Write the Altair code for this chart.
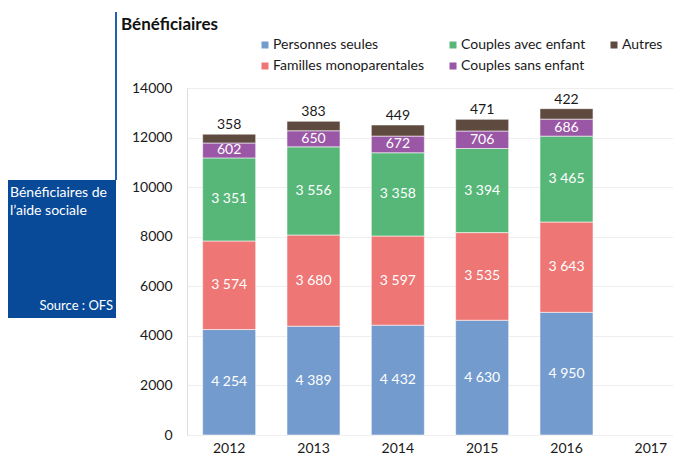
import altair as alt
import pandas as pd

years = ["2012", "2013", "2014", "2015", "2016", "2017"]
series = ["Personnes seules", "Familles monoparentales", "Couples avec enfant",
          "Couples sans enfant", "Autres"]
personnes_seules = [4254, 4389, 4432, 4630, 4950]
familles_mono = [3574, 3680, 3597, 3535, 3643]
couples_avec = [3351, 3556, 3358, 3394, 3465]
couples_sans = [602, 650, 672, 706, 686]
autres = [358, 383, 449, 471, 422]

legend_order = ["Personnes seules", "Couples avec enfant", "Autres",
                "Familles monoparentales", "Couples sans enfant"]
palette = {
    "Personnes seules": "#739bcd",
    "Familles monoparentales": "#ee7674",
    "Couples avec enfant": "#56b778",
    "Couples sans enfant": "#9a57a6",
    "Autres": "#5f4a3f",
}

rows = []
for i, (name, vals) in enumerate(zip(series, [personnes_seules, familles_mono, couples_avec,
                                              couples_sans, autres])):
    for yr, v in zip(years[:5], vals):
        rows.append({"year": yr, "series": name, "value": v, "order": i})
df = pd.DataFrame(rows)

FONT = "Lato"

x_enc = alt.X("year:N",
              scale=alt.Scale(domain=years, range=[0, 506], paddingInner=0.371, paddingOuter=0.1855),
              axis=alt.Axis(title=None, labelAngle=0, labelFontSize=14, labelColor="#1a1a1a",
                            labelFont=FONT, ticks=False, domain=False, labelPadding=6, grid=False))
y_scale = alt.Scale(domain=[0, 14000], nice=False)

bars = alt.Chart(df).mark_bar(stroke="white", strokeWidth=0.8, strokeOpacity=0.7).encode(
    x=x_enc,
    y=alt.Y("value:Q", stack="zero", scale=y_scale,
            axis=alt.Axis(title=None, values=list(range(0, 14001, 2000)), format="d",
                          labelFontSize=14, labelColor="#1a1a1a", labelFont=FONT,
                          ticks=False, domain=False, labelPadding=15,
                          gridColor="#eeeeee", gridWidth=1)),
    color=alt.Color("series:N",
                    scale=alt.Scale(domain=legend_order, range=[palette[s] for s in legend_order]),
                    legend=alt.Legend(orient="none", legendX=71, legendY=-50, columns=3,
                                      direction="horizontal", title=None, symbolType="square",
                                      symbolSize=49, symbolStrokeWidth=0, labelFontSize=14,
                                      labelFont=FONT, labelColor="#1a1a1a", columnPadding=21,
                                      rowPadding=7, labelOffset=1, padding=0)),
    order=alt.Order("order:Q", sort="ascending"),
)

inner = alt.Chart(df).transform_stack(
    stack="value", groupby=["year"], as_=["y0", "y1"], sort=[alt.SortField("order", "ascending")]
).transform_calculate(
    mid="(datum.y0 + datum.y1) / 2",
    label="replace(format(datum.value, ',d'), ',', ' ')",
).transform_filter("datum.series != 'Autres'").mark_text(
    color="white", fontSize=14, font=FONT
).encode(x=alt.X("year:N"), y=alt.Y("mid:Q", scale=y_scale), text="label:N")

top = alt.Chart(df).transform_joinaggregate(
    total="sum(value)", groupby=["year"]
).transform_filter("datum.series == 'Autres'").mark_text(
    color="#1a1a1a", fontSize=14, font=FONT, baseline="bottom", dy=-2
).encode(x=alt.X("year:N"), y=alt.Y("total:Q", scale=y_scale), text=alt.Text("value:Q", format="d"))

one = pd.DataFrame({"k": [0]})
box = alt.Chart(one).mark_rect(color="#084a98").encode(
    x=alt.value(-180), x2=alt.value(-71), y=alt.value(92), y2=alt.value(230))
vline = alt.Chart(one).mark_rule(color="#2160b0", strokeWidth=2).encode(
    x=alt.value(-71), y=alt.value(-76), y2=alt.value(92))

title = alt.Chart(pd.DataFrame({"t": ["Bénéficiaires"]})).mark_text(
    align="left", baseline="alphabetic", fontSize=17, fontWeight="bold", font=FONT, color="#111111"
).encode(x=alt.value(-66), y=alt.value(-58), text="t:N")

box_lines = pd.DataFrame({"t": ["Bénéficiaires de", "l’aide sociale"], "yy": [109, 127]})
box_text = alt.Chart(box_lines).mark_text(
    align="left", baseline="alphabetic", fontSize=14, font=FONT, color="white"
).encode(x=alt.value(-177), y=alt.Y("yy:Q", scale=None), text="t:N")

source = alt.Chart(pd.DataFrame({"t": ["Source : OFS"]})).mark_text(
    align="right", baseline="alphabetic", fontSize=13, font=FONT, color="white"
).encode(x=alt.value(-74), y=alt.value(222), text="t:N")

chart = alt.layer(bars, inner, top, box, vline, title, box_text, source).resolve_scale(
    y="shared"
).properties(
    width=486, height=347, autosize=alt.AutoSizeParams(type="none"),
    padding={"left": 179, "top": 80, "right": 0, "bottom": 20},
).configure_view(stroke=None).configure(background="white")

chart.save("out.html", embed_options={"renderer": "svg", "actions": False})
